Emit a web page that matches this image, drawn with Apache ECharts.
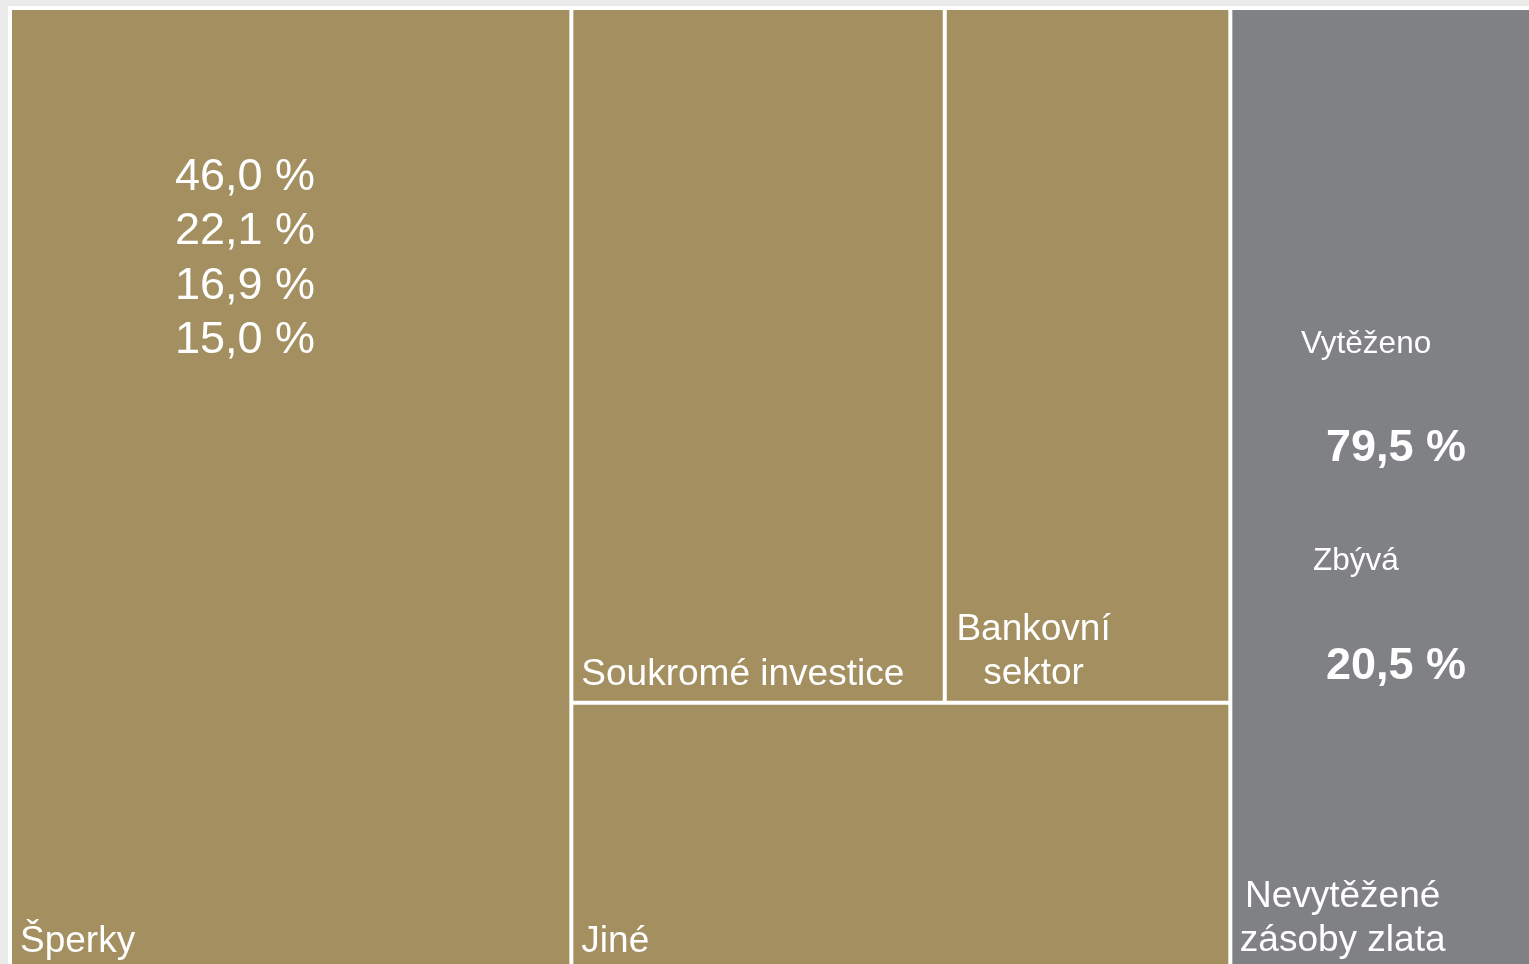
<!DOCTYPE html>
<html>
<head>
<meta charset="utf-8">
<script src="https://cdn.jsdelivr.net/npm/echarts@6/dist/echarts.min.js"></script>
<style>
  html, body { margin: 0; padding: 0; background: #ebebeb; }
  #chart { width: 1529px; height: 964px; }
</style>
</head>
<body>
<div id="chart"></div>
<script>
// usage of mined gold, share of mined total (%)
const categories = ['Šperky', 'Soukromé investice', 'Bankovní sektor', 'Jiné'];
const shares = [46.0, 22.1, 16.9, 15.0];
// mined vs. remaining reserves (%)
const groupNames = ['Vytěženo', 'Nevytěžené zásoby zlata'];
const groupLabels = ['Vytěženo', 'Zbývá'];
const groupShares = [79.5, 20.5];

const GOLD = '#a38f60';
const GREY = '#808185';
const FONT = '"Liberation Sans", Arial, sans-serif';

const fmt = v => v.toFixed(1).replace('.', ',') + ' %';

let baseLabel = {
  show: true,
  position: 'insideBottomLeft',
  distance: 8,
  offset: [0, 4],
  padding: 0,
  color: '#fff',
  fontFamily: FONT,
  fontSize: 37,
  lineHeight: 44,
  overflow: 'none'
};

// two-line labels are centred under each other, like in the slide
function twoLine(offsetX) {
  return Object.assign({}, baseLabel, {
    position: 'insideBottom',
    align: 'center',
    offset: [offsetX, 3],
    formatter: p => p.name.replace(' ', '\n')
  });
}

let minedChildren = categories.map((c, i) => ({
  name: c,
  value: shares[i],
  itemStyle: { color: GOLD },
  label: c === 'Bankovní sektor' ? twoLine(-54) : baseLabel
}));

let textStyle = (text, font, align) => ({
  text: text, fill: '#fff', font: font + ' ' + FONT, align: align, verticalAlign: 'middle'
});

let chart = echarts.init(document.getElementById('chart'));
chart.setOption({
  animation: false,
  backgroundColor: 'transparent',
  tooltip: { show: false },
  series: [{
    type: 'treemap',
    left: 8,
    top: 6,
    width: 1539,
    height: 966,
    squareRatio: 1.225,
    roam: false,
    nodeClick: false,
    breadcrumb: { show: false },
    label: baseLabel,
    upperLabel: { show: false },
    levels: [
      { itemStyle: { borderWidth: 4, borderColor: '#fff', gapWidth: 4 } },
      { itemStyle: { borderWidth: 0, borderColor: '#fff', gapWidth: 4 } },
      { itemStyle: { borderWidth: 0, borderColor: '#fff', gapWidth: 0 } }
    ],
    data: [
      {
        name: groupNames[0],
        value: groupShares[0],
        itemStyle: { color: GOLD },
        children: minedChildren
      },
      {
        name: groupNames[1],
        value: groupShares[1],
        itemStyle: { color: GREY },
        label: twoLine(-45)
      }
    ]
  }],
  graphic: {
    elements: [
      {
        type: 'text',
        z: 100,
        x: 315,
        y: 150,
        style: {
          text: shares.map(fmt).join('\n'),
          fill: '#fff',
          font: '45px ' + FONT,
          lineHeight: 54.5,
          align: 'right',
          verticalAlign: 'top'
        }
      },
      { type: 'text', z: 100, x: 1301, y: 344, style: textStyle(groupLabels[0], '31.5px', 'left') },
      { type: 'text', z: 100, x: 1326, y: 449, style: textStyle(fmt(groupShares[0]), 'bold 45px', 'left') },
      { type: 'text', z: 100, x: 1313, y: 561, style: textStyle(groupLabels[1], '31.5px', 'left') },
      { type: 'text', z: 100, x: 1326, y: 667, style: textStyle(fmt(groupShares[1]), 'bold 45px', 'left') }
    ]
  }
});
</script>
</body>
</html>
